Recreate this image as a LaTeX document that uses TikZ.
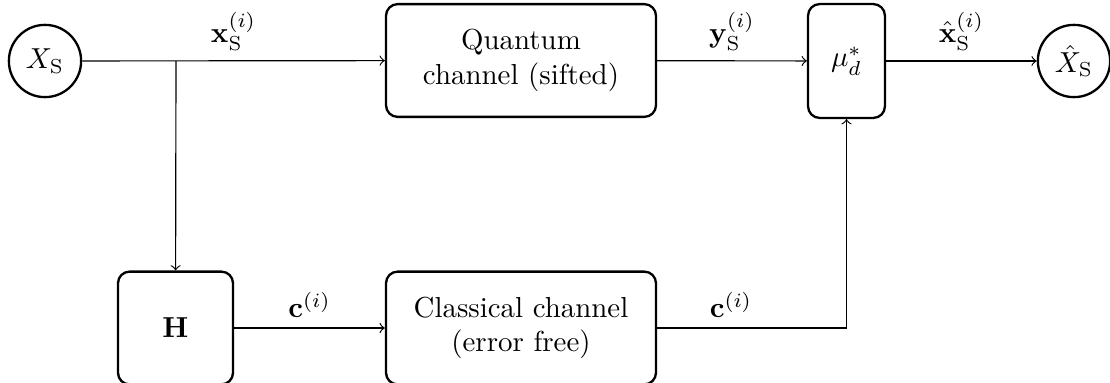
\documentclass[tikz,border=0pt]{standalone}
\usetikzlibrary{positioning}
\begin{document}
\begin{tikzpicture}[x=0.346pt,y=-0.346pt,
  blk/.style={draw,thick,rounded corners=4pt,align=center,inner sep=0pt},
  circ/.style={draw,thick,circle,minimum size=25pt,inner sep=0pt},
  conn/.style={->}]
\useasboundingbox (0,0) rectangle (1110,383);
\node[circ] (xs) at (45,61) {$X_{\mathrm{S}}$};
\node[blk,minimum width=93.4pt,minimum height=39pt] (qc) at (521,60.5) {Quantum\\channel (sifted)};
\node[blk,minimum width=26.6pt,minimum height=39.4pt] (mu) at (846.5,61) {$\mu_d^*$};
\node[circ] (xh) at (1074,61) {$\hat{X}_{\mathrm{S}}$};
\node[blk,minimum width=39.8pt,minimum height=39pt] (H) at (175.5,328) {$\mathbf{H}$};
\node[blk,minimum width=93.4pt,minimum height=39pt] (cc) at (521,328) {Classical channel\\(error free)};
\coordinate (br) at (176,61);
\coordinate (cr) at (mu.south |- cc.east);
\draw[conn] (xs) -- node[above]{$\mathbf{x}_{\mathrm{S}}^{(i)}$} (qc);
\draw[conn] (br) -- (H);
\draw[conn] (qc) -- node[above]{$\mathbf{y}_{\mathrm{S}}^{(i)}$} (mu);
\draw[conn] (mu) -- node[above]{$\hat{\mathbf{x}}_{\mathrm{S}}^{(i)}$} (xh);
\draw[conn] (H) -- node[above]{$\mathbf{c}^{(i)}$} (cc);
\draw[conn] (cc.east) -- node[above,pos=0.39]{$\mathbf{c}^{(i)}$} (cr) -- (mu.south);
\end{tikzpicture}
\end{document}
